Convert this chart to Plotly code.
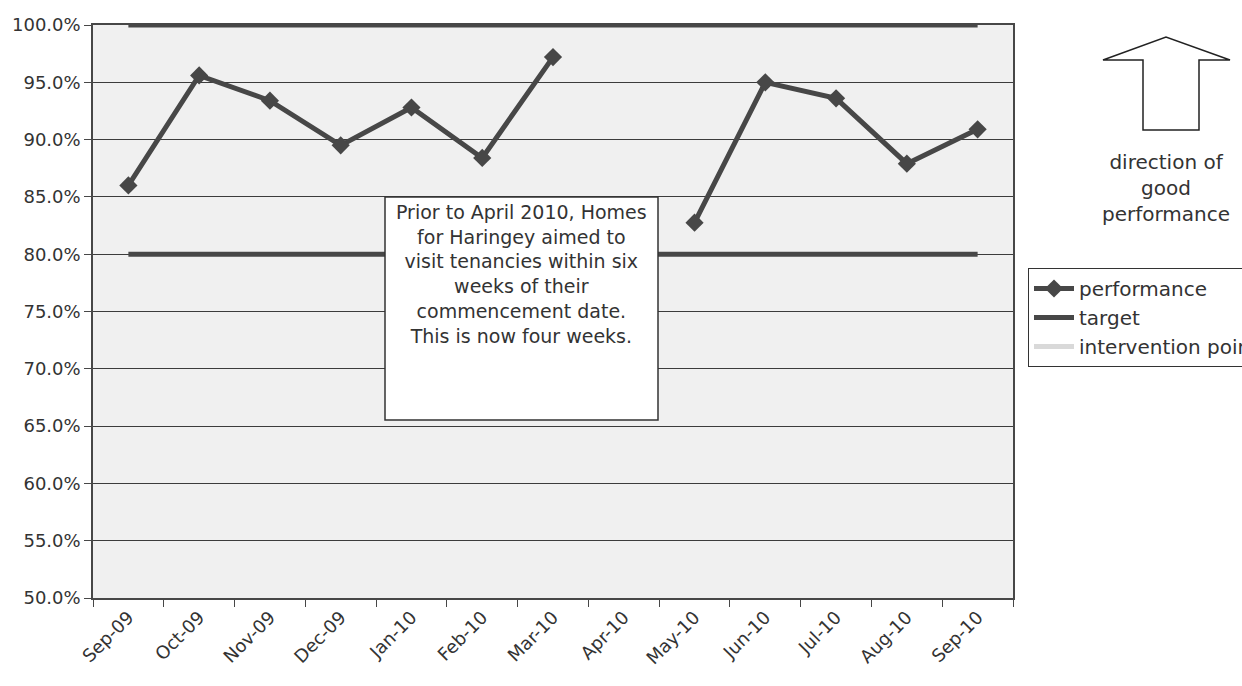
import plotly.graph_objects as go

months = ["Sep-09", "Oct-09", "Nov-09", "Dec-09", "Jan-10", "Feb-10", "Mar-10",
          "Apr-10", "May-10", "Jun-10", "Jul-10", "Aug-10", "Sep-10"]
performance = [0.860, 0.956, 0.934, 0.895, 0.928, 0.884, 0.972,
               None, 0.8275, 0.950, 0.936, 0.879, 0.909]
target = [1.0] * 13
lower_line = [0.80] * 13

note = ("Prior to April 2010, Homes<br>for Haringey aimed to<br>visit tenancies within six"
        "<br>weeks of their<br>commencement date.<br>This is now four weeks.")

W, H = 1242, 686
L, R, T, B = 93, 1013, 25, 598
pw, ph = R - L, B - T


def px(x):
    return (x - L) / pw


def py(y):
    return (B - y) / ph


DARK = "#474747"
TXT = "#333333"
FONT = "DejaVu Sans"

fig = go.Figure()
fig.add_trace(go.Scatter(x=months, y=performance, name="performance", mode="lines+markers",
                         line=dict(color=DARK, width=5), marker=dict(symbol="diamond", size=14, color=DARK),
                         connectgaps=False))
fig.add_trace(go.Scatter(x=months, y=target, name="target", mode="lines",
                         line=dict(color=DARK, width=5)))
fig.add_trace(go.Scatter(x=months, y=lower_line, name="target", mode="lines", showlegend=False,
                         line=dict(color=DARK, width=5)))
fig.add_trace(go.Scatter(x=[None], y=[None], name="intervention point", mode="lines",
                         line=dict(color="#d9d9d9", width=5)))

shapes = [
    dict(type="rect", xref="paper", yref="paper", x0=px(385), x1=px(658), y0=py(420), y1=py(197),
         line=dict(color=TXT, width=1.5), fillcolor="white", layer="above"),
    dict(type="path", xref="paper", yref="paper", layer="above",
         path=(f"M {px(1143)} {py(130)} L {px(1143)} {py(60)} L {px(1103)} {py(60)} "
               f"L {px(1166)} {py(37)} L {px(1230)} {py(60)} L {px(1199)} {py(60)} "
               f"L {px(1199)} {py(130)} Z"),
         line=dict(color="#222222", width=1.5), fillcolor="white"),
]

annotations = [
    dict(xref="paper", yref="paper", x=px(521), y=py(199), xanchor="center", yanchor="top",
         text=note, showarrow=False, align="center",
         font=dict(family=FONT, size=19, color=TXT)),
    dict(xref="paper", yref="paper", x=px(1166), y=py(148), xanchor="center", yanchor="top",
         text="direction of<br>good<br>performance", showarrow=False, align="center",
         font=dict(family=FONT, size=20, color=TXT)),
]

fig.update_layout(
    width=W, height=H,
    margin=dict(l=L, r=W - R, t=T, b=H - B, autoexpand=False),
    paper_bgcolor="white", plot_bgcolor="#f0f0f0",
    font=dict(family=FONT, size=18, color=TXT),
    shapes=shapes, annotations=annotations,
    legend=dict(xref="container", yref="container", x=1028 / W, y=1 - 268 / H,
                xanchor="left", yanchor="top",
                bordercolor=TXT, borderwidth=1, bgcolor="white",
                font=dict(family=FONT, size=20, color=TXT),
                tracegroupgap=0, itemwidth=40),
    showlegend=True,
)
fig.update_xaxes(type="category", range=[-0.5, 12.5], tickson="boundaries", tickangle=-45,
                 ticks="outside", ticklen=7, tickcolor=DARK, showgrid=False,
                 showline=True, linecolor=DARK, linewidth=1.5, mirror=True,
                 tickfont=dict(family=FONT, size=18, color=TXT))
fig.update_yaxes(range=[0.5, 1.0], dtick=0.05, tickformat=".1%", ticks="outside", ticklen=7,
                 tickcolor=DARK, showgrid=True, gridcolor="#3c3c3c", gridwidth=1,
                 showline=True, linecolor=DARK, linewidth=1.5, mirror=True, zeroline=False,
                 tickfont=dict(family=FONT, size=18, color=TXT))

fig.write_html("out.html", config={"displayModeBar": False},
               post_script="document.body.style.margin='0';")
